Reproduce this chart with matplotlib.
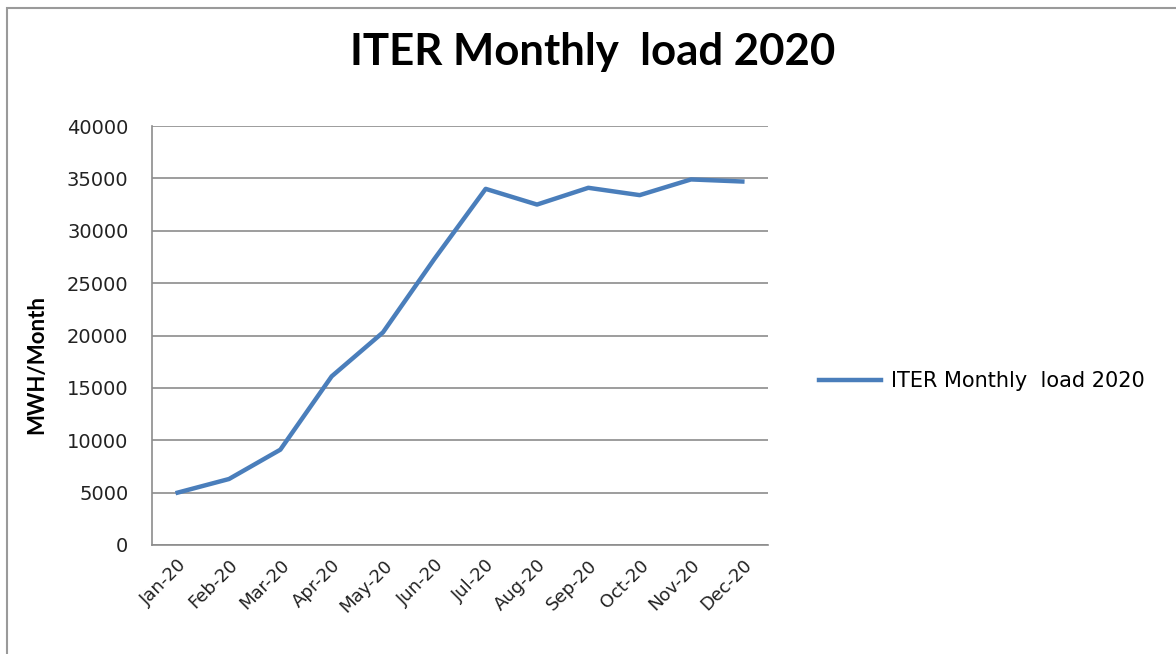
import matplotlib
matplotlib.use("Agg")
import matplotlib.pyplot as plt
from matplotlib.patches import Rectangle

# data
months = ["Jan-20", "Feb-20", "Mar-20", "Apr-20", "May-20", "Jun-20",
          "Jul-20", "Aug-20", "Sep-20", "Oct-20", "Nov-20", "Dec-20"]
load_mwh = [5000, 6300, 9100, 16100, 20300, 27300,
            34000, 32500, 34100, 33400, 34900, 34700]
y_ticks = [0, 5000, 10000, 15000, 20000, 25000, 30000, 35000, 40000]

series_name = "ITER Monthly  load 2020"
line_color = "#4A7EBB"
grid_color = "#8C8C8C"

fig = plt.figure(figsize=(11.76, 6.54), dpi=100)
ax = fig.add_axes([152 / 1176, 1 - 545 / 654, (768 - 152) / 1176, (545 - 126) / 654])

x = range(len(months))
ax.plot(x, load_mwh, color=line_color, linewidth=3.2, label=series_name,
        solid_joinstyle="round")

ax.set_xlim(-0.5, len(months) - 0.5)
ax.set_ylim(0, 40000)
ax.set_yticks(y_ticks)
ax.set_xticks(list(x))
ax.set_xticklabels(months, rotation=45, ha="right", rotation_mode="anchor",
                   fontsize=13, family="DejaVu Sans", color="#222222")
ax.tick_params(axis="x", length=0, pad=8)
ax.tick_params(axis="y", length=0, pad=17, labelsize=14, labelcolor="#222222")
for lbl in ax.get_yticklabels():
    lbl.set_family("DejaVu Sans")

ax.grid(True, axis="y", color=grid_color, linewidth=1.2)
ax.set_axisbelow(True)
for side in ["top", "right"]:
    ax.spines[side].set_visible(False)
for side in ["left", "bottom"]:
    ax.spines[side].set_color(grid_color)
    ax.spines[side].set_linewidth(1.2)

# axis title placed in figure coords to match the reference
fig.text(37 / 1176, 1 - 365 / 654, "MWH/Month", family="Lato", fontweight="bold",
         fontsize=16, rotation=90, ha="center", va="center")

fig.text(593 / 1176, 1 - 52 / 654, series_name, family="Lato", fontweight="bold",
         fontsize=31.5, ha="center", va="center")

leg = fig.legend(loc="center left", bbox_to_anchor=(800 / 1176, 1 - 381 / 654),
                 frameon=False, prop={"family": "DejaVu Sans", "size": 15},
                 handlelength=3.0, handletextpad=0.45)

# outer chart border (left and top visible)
fig.patches.append(Rectangle((7 / 1176, -0.1), 1.2, 1 - 8 / 654 + 0.1,
                             transform=fig.transFigure, fill=False,
                             edgecolor="#9A9A9A", linewidth=1.5))

fig.savefig("out.png", dpi=100)
